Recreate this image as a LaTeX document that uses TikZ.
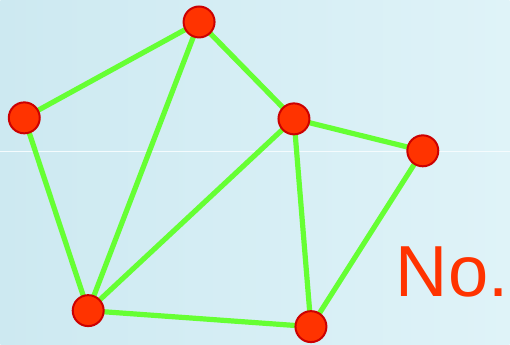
\documentclass[tikz,border=0pt]{standalone}
\usepackage{fontspec}
\newfontfamily\labelfont{Liberation Sans}
\pgfdeclarelayer{paper}
\pgfdeclarelayer{edges}
\pgfsetlayers{paper,edges,main}
\definecolor{vtxred}{HTML}{FF3300}
\definecolor{vtxdark}{HTML}{CC0000}
\definecolor{linkgreen}{HTML}{66FF33}
\definecolor{bgleft}{HTML}{CDE9F1}
\definecolor{bgright}{HTML}{DFF3F8}
\tikzset{
  vertex/.style={circle,fill=vtxred,draw=vtxdark,line width=1mm,minimum size=15.5mm,inner sep=0pt},
  link/.style={draw=linkgreen,line width=2.6mm}
}
\begin{document}
\begin{tikzpicture}[x=0.5mm,y=-0.5mm]
  \begin{pgfonlayer}{paper}
    \shade[left color=bgleft,right color=bgright] (0,0) rectangle (510,345);
    \draw[white!70!bgright,line width=0.3mm] (0,151) -- (510,151);
  \end{pgfonlayer}
  \useasboundingbox (0,0) rectangle (510,345);
  % vertices
  \node[vertex] (top) at (199,22) {};
  \node[vertex] (left) at (24,118) {};
  \node[vertex] (mid) at (294,119) {};
  \node[vertex] (right) at (423,151) {};
  \node[vertex] (botl) at (88,311) {};
  \node[vertex] (botr) at (311,327) {};
  % edges, kept under the vertices
  \begin{pgfonlayer}{edges}
    \foreach \a/\b in {top/left,top/mid,top/botl,left/botl,mid/botl,mid/right,mid/botr,right/botr,botl/botr} {
      \path[link] (\a.center) -- (\b.center);
    }
  \end{pgfonlayer}
  \node[anchor=base west,inner sep=0pt,text=vtxred,font=\labelfont\fontsize{103pt}{103pt}\selectfont] (no) at (396,297) {No.};
\end{tikzpicture}
\end{document}
